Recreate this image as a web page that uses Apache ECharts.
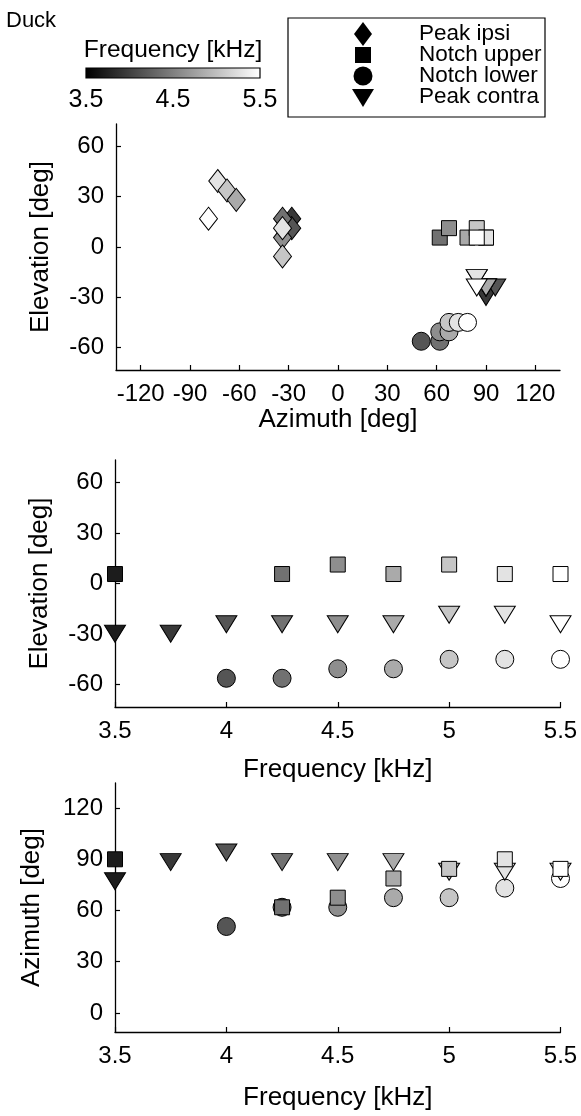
<!DOCTYPE html>
<html><head><meta charset="utf-8">
<script src="https://cdn.jsdelivr.net/npm/echarts@6/dist/echarts.min.js"></script>
<style>html,body{margin:0;padding:0;background:#fff}#c{width:581px;height:1116px}</style>
</head><body><div id="c"></div>
<script>
// ---- data ----
const freqs = [3.5, 3.75, 4, 4.25, 4.5, 4.75, 5, 5.25, 5.5];
const notchUpperEl = [5.625, null, null, 5.625, 11.25, 5.625, 11.25, 5.625, 5.625];
const notchUpperAz = [90, null, null, 61.875, 67.5, 78.75, 84.375, 90, 84.375];
const notchLowerEl = [null, null, -56.25, -56.25, -50.625, -50.625, -45, -45, -45];
const notchLowerAz = [null, null, 50.625, 61.875, 61.875, 67.5, 67.5, 73.125, 78.75];
const peakContraEl = [-28.125, -28.125, -22.5, -22.5, -22.5, -22.5, -16.875, -16.875, -22.5];
const peakContraAz = [78.75, 90, 95.625, 90, 90, 90, 84.375, 84.375, 84.375];
// peak contra as shown in the azimuth/elevation panel
const topContraAz = [90, 95.625, 90, 90, 90, 84.375, 84.375, 84.375];
const topContraEl = [-28.125, -22.5, -22.5, -22.5, -22.5, -16.875, -16.875, -22.5];
const topContraFreq = [3.75, 4, 4.25, 4.5, 4.75, 5, 5.25, 5.5];
const peakIpsiAz = [-28.125, -28.125, -33.75, -33.75, -33.75, -73.125, -67.5, -61.875, -33.75, -78.75];
const peakIpsiEl = [16.875, 11.25, 16.875, 5.625, -5.625, 39.375, 33.75, 28.125, 11.25, 16.875];
const peakIpsiFreq = [3.75, 4, 4.25, 4.5, 5, 5.25, 5, 4.75, 5.25, 5.5];
const azTicks = [-120, -90, -60, -30, 0, 30, 60, 90, 120];
const elTicks = [-60, -30, 0, 30, 60];
const azFreqTicks = [0, 30, 60, 90, 120];
const freqTicks = [3.5, 4, 4.5, 5, 5.5];
const cbarLabels = [3.5, 4.5, 5.5];
const cbarTicks = [4, 4.5, 5];
const legendNames = ['Peak ipsi', 'Notch upper', 'Notch lower', 'Peak contra'];

// ---- helpers ----
const FONT = '"Liberation Sans", Arial, sans-serif';
function pts(xs, ys, fs) {
  const out = [];
  for (let i = 0; i < fs.length; i++) if (xs[i] != null && ys[i] != null) out.push([xs[i], ys[i], fs[i]]);
  return out;
}
const TRI = 'path://M0,0L20,0L10,17Z';
const sym = {
  ipsi: { symbol: 'diamond', symbolSize: [18, 23] },
  upper: { symbol: 'rect', symbolSize: 15 },
  lower: { symbol: 'circle', symbolSize: 18 },
  contra: { symbol: TRI, symbolSize: [21, 17], symbolOffset: [0, 2.8] }
};
function sc(name, kind, data, ax) {
  return Object.assign({
    type: 'scatter', name: name, xAxisIndex: ax, yAxisIndex: ax, data: data,
    itemStyle: { borderColor: '#000', borderWidth: 1, opacity: 1 },
    emphasis: { disabled: true }, animation: false
  }, sym[kind]);
}
const axLine = { show: true, onZero: false, lineStyle: { color: '#000', width: 1.3 } };
const tickStyle = { lineStyle: { color: '#000', width: 1.2 } };
function valAxis(gi, min, max, ticks, name, isY, gap) {
  return {
    type: 'value', gridIndex: gi, min: min, max: max,
    position: isY ? 'left' : 'bottom',
    axisLine: axLine,
    axisTick: Object.assign({ show: true, inside: true, length: 5, customValues: ticks }, tickStyle),
    axisLabel: { show: true, customValues: ticks, color: '#000', fontFamily: FONT, fontSize: 24, margin: 12 },
    splitLine: { show: false },
    name: name, nameLocation: 'middle', nameGap: gap,
    nameTextStyle: { color: '#000', fontFamily: FONT, fontSize: 26 }
  };
}

const topData = {
  ipsi: pts(peakIpsiAz, peakIpsiEl, peakIpsiFreq),
  lower: pts(notchLowerAz, notchLowerEl, freqs),
  contra: pts(topContraAz, topContraEl, topContraFreq),
  upper: pts(notchUpperAz, notchUpperEl, freqs)
};
const midData = {
  lower: pts(freqs, notchLowerEl, freqs),
  contra: pts(freqs, peakContraEl, freqs),
  upper: pts(freqs, notchUpperEl, freqs)
};
const botData = {
  lower: pts(freqs, notchLowerAz, freqs),
  contra: pts(freqs, peakContraAz, freqs),
  upper: pts(freqs, notchUpperAz, freqs)
};

const series = [
  sc('Peak ipsi', 'ipsi', topData.ipsi, 0),
  sc('Notch lower', 'lower', topData.lower, 0),
  sc('Peak contra', 'contra', topData.contra, 0),
  sc('Notch upper', 'upper', topData.upper, 0),
  sc('Notch lower', 'lower', midData.lower, 1),
  sc('Peak contra', 'contra', midData.contra, 1),
  sc('Notch upper', 'upper', midData.upper, 1),
  sc('Notch lower', 'lower', botData.lower, 2),
  sc('Peak contra', 'contra', botData.contra, 2),
  sc('Notch upper', 'upper', botData.upper, 2)
];
const scatterIdx = series.map((s, i) => i);

// colorbar gradient strip drawn on its own axis
series.push({
  type: 'custom', xAxisIndex: 3, yAxisIndex: 3, silent: true, animation: false,
  data: [[freqs[0], freqs[freqs.length - 1]]],
  renderItem: function (params, api) {
    const p0 = api.coord([api.value(0), 1]);
    const p1 = api.coord([api.value(1), 0]);
    return {
      type: 'rect',
      shape: { x: p0[0], y: p0[1], width: p1[0] - p0[0], height: p1[1] - p0[1] },
      style: { fill: new echarts.graphic.LinearGradient(0, 0, 1, 0, [{ offset: 0, color: '#000' }, { offset: 1, color: '#fff' }]) }
    };
  }
});

// legend (graphic)
const legX = 288, legY = 18, legW = 257, legH = 99;
const rowY = [34, 55, 76, 97];
const mx = 363, tx = 419;
const legendGlyphs = [
  { type: 'polygon', shape: { points: [[mx, rowY[0] - 12], [mx + 9, rowY[0]], [mx, rowY[0] + 12], [mx - 9, rowY[0]]] }, style: { fill: '#000' } },
  { type: 'rect', shape: { x: mx - 8, y: rowY[1] - 8, width: 16, height: 16 }, style: { fill: '#000' } },
  { type: 'circle', shape: { cx: mx, cy: rowY[2], r: 9.5 }, style: { fill: '#000' } },
  { type: 'polygon', shape: { points: [[mx - 11, rowY[3] - 8], [mx + 11, rowY[3] - 8], [mx, rowY[3] + 10]] }, style: { fill: '#000' } }
];
const legendTexts = legendNames.map((n, i) => ({
  type: 'text', x: tx, y: rowY[i],
  style: { text: n, fill: '#000', font: '22.5px ' + FONT, textVerticalAlign: 'middle', textAlign: 'left' }
}));

const option = {
  backgroundColor: '#fff',
  animation: false,
  textStyle: { fontFamily: FONT },
  grid: [
    { left: 116, width: 444, top: 124, height: 246, outerBoundsMode: 'none' },
    { left: 115, width: 445.5, top: 460, height: 247, outerBoundsMode: 'none' },
    { left: 115, width: 445.5, top: 783, height: 249, outerBoundsMode: 'none' },
    { left: 86, width: 174, top: 68, height: 10, show: true, borderColor: '#000', borderWidth: 1.2, backgroundColor: 'transparent', outerBoundsMode: 'none', z: 5 }
  ],
  xAxis: [
    valAxis(0, -135, 135, azTicks, 'Azimuth [deg]', false, 29),
    valAxis(1, 3.5, 5.5, freqTicks, 'Frequency [kHz]', false, 50),
    valAxis(2, 3.5, 5.5, freqTicks, 'Frequency [kHz]', false, 53),
    {
      type: 'value', gridIndex: 3, min: 3.5, max: 5.5, position: 'bottom',
      axisLine: { show: false },
      axisTick: { show: true, inside: true, length: 2, customValues: cbarTicks, lineStyle: { color: '#333', width: 1 } },
      axisLabel: { show: true, customValues: cbarLabels, color: '#000', fontFamily: FONT, fontSize: 25, margin: 10 },
      splitLine: { show: false }
    }
  ],
  yAxis: [
    valAxis(0, -73.4, 73.4, elTicks, 'Elevation [deg]', true, 62),
    valAxis(1, -73.3, 73.3, elTicks, 'Elevation [deg]', true, 62),
    valAxis(2, -11.2, 134.7, azFreqTicks, 'Azimuth [deg]', true, 70),
    { type: 'value', gridIndex: 3, min: 0, max: 1, show: false }
  ],
  visualMap: {
    type: 'continuous', show: false, min: freqs[0], max: freqs[freqs.length - 1], dimension: 2,
    seriesIndex: scatterIdx, inRange: { color: ['#1c1c1c', '#ffffff'] }
  },
  series: series,
  graphic: [
    { type: 'text', x: 6, y: 21, style: { text: 'Duck', fill: '#000', font: '22px ' + FONT, textVerticalAlign: 'middle' } },
    { type: 'text', x: 173, y: 50, style: { text: 'Frequency [kHz]', fill: '#000', font: '24.5px ' + FONT, textVerticalAlign: 'middle', textAlign: 'center' } },
    { type: 'rect', shape: { x: legX, y: legY, width: legW, height: legH }, style: { fill: '#fff', stroke: '#000', lineWidth: 1.2 } }
  ].concat(legendGlyphs).concat(legendTexts)
};

const chart = echarts.init(document.getElementById('c'), null, { renderer: 'canvas' });
chart.setOption(option);
</script>
</body></html>
